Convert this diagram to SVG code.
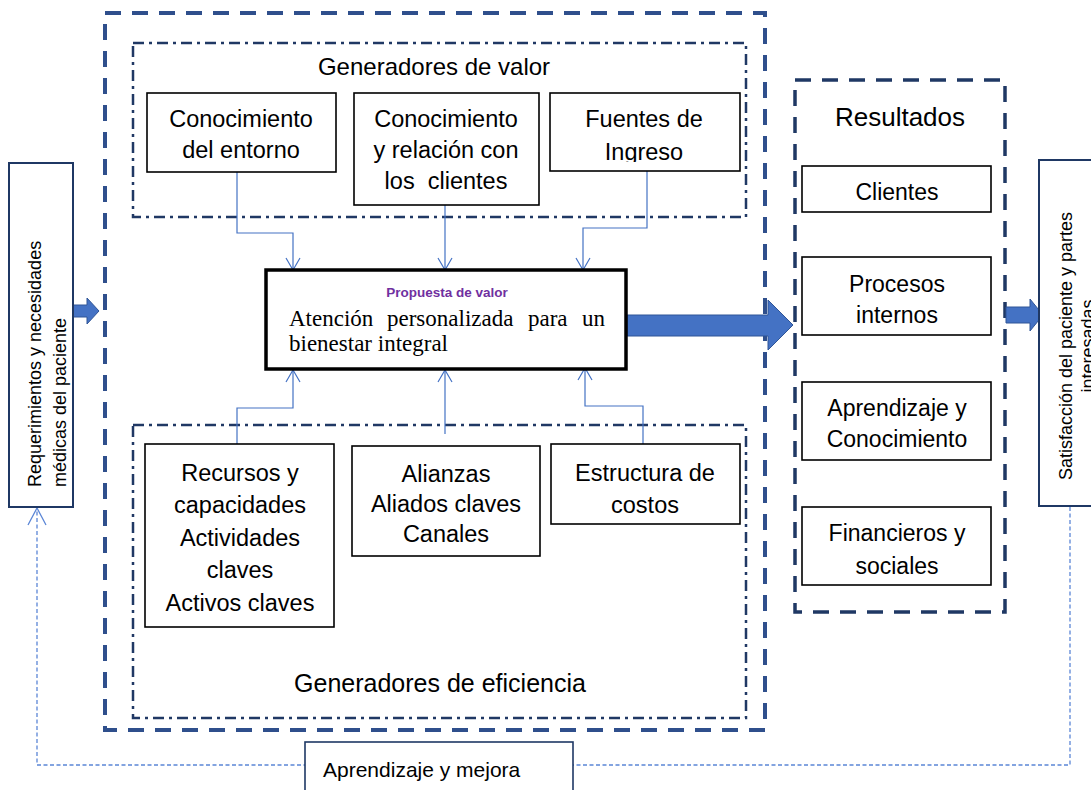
<svg xmlns="http://www.w3.org/2000/svg" width="1091" height="790" viewBox="0 0 1091 790">
<style>
.sans{font-family:"Liberation Sans",Arial,sans-serif;fill:#000}
.c{text-anchor:middle}
.t{font-size:23.5px}
.box{fill:#fff;stroke:#000;stroke-width:1.6}
.navy{fill:#fff;stroke:#1F3864;stroke-width:2}
.dash{fill:none;stroke:#2F4F8C;stroke-width:4;stroke-dasharray:16 11}
.dashR{fill:none;stroke:#1F3864;stroke-width:3.5;stroke-dasharray:16 11}
.dd{fill:none;stroke:#203864;stroke-width:2.5;stroke-dasharray:11 5 3 5}
.conn{fill:none;stroke:#4472C4;stroke-width:1.2}
.fb{fill:none;stroke:#5B86D6;stroke-width:1.3;stroke-dasharray:4 2.5}
.blk{fill:#4472C4;stroke:#2F5597;stroke-width:1}
</style>
<defs>
<marker id="oa" markerWidth="14" markerHeight="16" refX="13" refY="8" orient="auto" markerUnits="userSpaceOnUse">
<path d="M1,1 L13,8 L1,15" fill="none" stroke="#4472C4" stroke-width="1.2"/>
</marker>
<marker id="ob" markerWidth="20" markerHeight="20" refX="18" refY="10" orient="auto" markerUnits="userSpaceOnUse">
<path d="M1,1 L18,10 L1,19" fill="none" stroke="#5B86D6" stroke-width="1.3"/>
</marker>
<clipPath id="clipIng"><rect x="548" y="93" width="192" height="69"/></clipPath>
</defs>

<g id="containers">
<rect id="outer" class="dash" x="105" y="13" width="660" height="717"/>
<rect id="gen-valor" class="dd" x="133" y="43" width="613" height="174"/>
<text class="sans c" x="434" y="75" font-size="24">Generadores de valor</text>
<rect id="gen-eficiencia" class="dd" x="133" y="425" width="613" height="293"/>
<text class="sans c" x="440" y="692" font-size="25">Generadores de eficiencia</text>
<rect id="resultados" class="dashR" x="795" y="80" width="210" height="532"/>
<text class="sans c" x="900" y="126" font-size="26">Resultados</text>
</g>

<g id="connectors">
<path class="conn" d="M237,172 V233 H293 V270" marker-end="url(#oa)"/>
<path class="conn" d="M445,205 V270" marker-end="url(#oa)"/>
<path class="conn" d="M647,171 V228 H583 V270" marker-end="url(#oa)"/>
<path class="conn" d="M237,444 V408 H293 V370" marker-end="url(#oa)"/>
<path class="conn" d="M445,434 V370" marker-end="url(#oa)"/>
<path class="conn" d="M643,444 V406 H585 V368" marker-end="url(#oa)"/>
<path class="fb" d="M1070,507 V765 H37 V508" marker-end="url(#ob)"/>
<polygon class="blk" points="73,305 87,305 87,298 99,311 87,324 87,317 73,317"/>
<polygon class="blk" points="627,315 768,315 768,300 793,325 768,350 768,336 627,336"/>
<polygon class="blk" points="1006,307 1030,307 1030,299 1043,315 1030,331 1030,323 1006,323"/>
</g>

<g id="n-requerimientos">
<rect class="navy" x="9" y="163" width="64" height="344"/>
<text class="sans" font-size="18" transform="translate(41,487) rotate(-90)">Requerimientos y necesidades</text>
<text class="sans" font-size="18" transform="translate(66,487) rotate(-90)">médicas del paciente</text>
</g>

<g id="n-entorno">
<rect class="box" x="147" y="93" width="189" height="79"/>
<text class="sans c t" x="241" y="127">Conocimiento</text>
<text class="sans c t" x="241" y="158">del entorno</text>
</g>

<g id="n-clientes-rel">
<rect class="box" x="354" y="93" width="185" height="112"/>
<text class="sans c t" x="446" y="127">Conocimiento</text>
<text class="sans c t" x="446" y="158">y relación con</text>
<text class="sans c t" x="446" y="189">los&#160; clientes</text>
</g>

<g id="n-fuentes">
<rect class="box" x="550" y="93" width="190" height="78"/>
<text class="sans c t" x="644" y="127">Fuentes de</text>
<text class="sans c t" x="644" y="160" clip-path="url(#clipIng)">Ingreso</text>
</g>

<g id="n-propuesta">
<rect x="266" y="270" width="360" height="99" fill="#fff" stroke="#000" stroke-width="3.5"/>
<text x="447" y="297" text-anchor="middle" font-family="'Liberation Sans',Arial,sans-serif" font-size="13.5" font-weight="bold" fill="#7030A0">Propuesta de valor</text>
<g font-family="'Liberation Serif','Times New Roman',serif" font-size="23" fill="#000">
<text x="289" y="326">Atención</text>
<text x="387" y="326">personalizada</text>
<text x="528" y="326">para</text>
<text x="605" y="326" text-anchor="end">un</text>
<text x="289" y="351">bienestar integral</text>
</g>
</g>

<g id="n-recursos">
<rect class="box" x="145" y="444" width="189" height="183"/>
<text class="sans c t" x="240" y="481">Recursos y</text>
<text class="sans c t" x="240" y="513">capacidades</text>
<text class="sans c t" x="240" y="546">Actividades</text>
<text class="sans c t" x="240" y="578">claves</text>
<text class="sans c t" x="240" y="611">Activos claves</text>
</g>

<g id="n-alianzas">
<rect class="box" x="352" y="446" width="188" height="110"/>
<text class="sans c t" x="446" y="482">Alianzas</text>
<text class="sans c t" x="446" y="512">Aliados claves</text>
<text class="sans c t" x="446" y="542">Canales</text>
</g>

<g id="n-costos">
<rect class="box" x="551" y="444" width="189" height="80"/>
<text class="sans c t" x="645" y="481">Estructura de</text>
<text class="sans c t" x="645" y="513">costos</text>
</g>

<g id="n-res-clientes">
<rect class="box" x="802" y="166" width="189" height="46"/>
<text class="sans c" font-size="23" x="897" y="200">Clientes</text>
</g>
<g id="n-res-procesos">
<rect class="box" x="802" y="257" width="189" height="78"/>
<text class="sans c" font-size="23" x="897" y="292">Procesos</text>
<text class="sans c" font-size="23" x="897" y="323">internos</text>
</g>
<g id="n-res-aprendizaje">
<rect class="box" x="802" y="382" width="189" height="78"/>
<text class="sans c" font-size="23" x="897" y="416">Aprendizaje y</text>
<text class="sans c" font-size="23" x="897" y="447">Conocimiento</text>
</g>
<g id="n-res-financieros">
<rect class="box" x="802" y="507" width="189" height="78"/>
<text class="sans c" font-size="23" x="897" y="541">Financieros y</text>
<text class="sans c" font-size="23" x="897" y="574">sociales</text>
</g>

<g id="n-satisfaccion">
<rect class="navy" x="1039" y="160" width="60" height="346"/>
<text class="sans c" font-size="18" transform="translate(1072,346) rotate(-90)">Satisfacción del paciente y partes</text>
<text class="sans c" font-size="18" transform="translate(1094,346) rotate(-90)">interesadas</text>
</g>

<g id="n-aprendizaje-mejora">
<rect x="305" y="742" width="268" height="60" fill="#fff" stroke="#1F3864" stroke-width="1.6"/>
<text class="sans" font-size="21" x="323" y="777">Aprendizaje y mejora</text>
</g>
</svg>
